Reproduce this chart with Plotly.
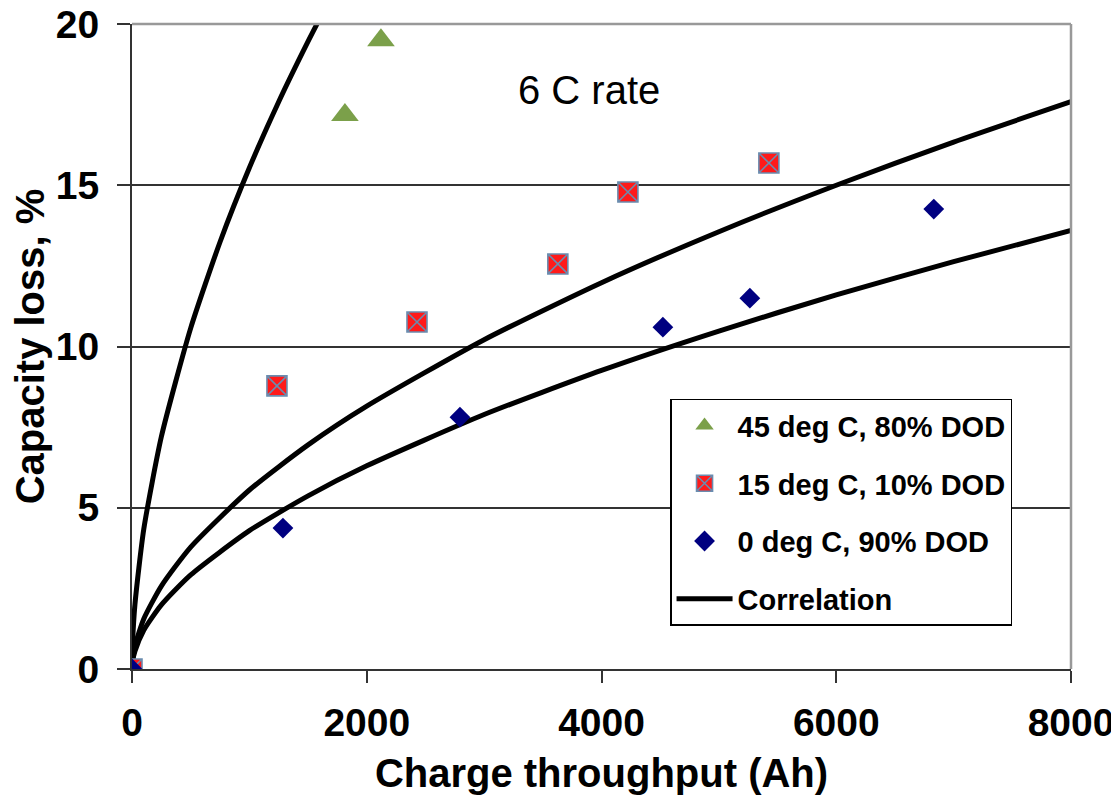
import plotly.graph_objects as go

x_45 = [1814, 2121]
y_45 = [17.18, 19.5]

x_15 = [0, 1235, 2428, 3628, 4225, 5426]
y_15 = [0, 8.78, 10.76, 12.56, 14.79, 15.69]

x_0 = [0, 1286, 2794, 4523, 5264, 6831]
y_0 = [0, 4.37, 7.81, 10.6, 11.5, 14.26]

# Correlation curves
x_c1 = [0, 5, 25, 100, 250, 500, 750, 1000, 1250, 1500, 1600]
y_c1 = [0, 0.82, 2.0, 4.33, 7.20, 10.57, 13.24, 15.54, 17.59, 19.46, 20.17]

x_c2 = [0, 5, 25, 100, 250, 500, 1000, 1500, 2000, 3000, 4000, 5000, 6000, 7000, 8000]
y_c2 = [0, 0.29, 0.72, 1.55, 2.57, 3.78, 5.55, 6.95, 8.15, 10.21, 11.98, 13.56, 15.0, 16.34, 17.59]
y_c3 = [0, 0.23, 0.55, 1.20, 1.99, 2.92, 4.29, 5.37, 6.30, 7.89, 9.26, 10.48, 11.6, 12.63, 13.60]

x_ticks = [0, 2000, 4000, 6000, 8000]
y_ticks = [0, 5, 10, 15, 20]

FONT = "Liberation Sans"
TICK = dict(family=FONT, size=39, color="black", weight="bold")
TITLE = dict(family=FONT, size=40, color="black", weight="bold")

fig = go.Figure()

line_style = dict(color="black", width=5, shape="spline", smoothing=0.6)
fig.add_trace(go.Scatter(x=x_c1, y=y_c1, mode="lines", line=line_style,
                         name="Correlation", legendgroup="d", legendrank=4))
fig.add_trace(go.Scatter(x=x_c2, y=y_c2, mode="lines", line=line_style,
                         showlegend=False, legendgroup="d"))
fig.add_trace(go.Scatter(x=x_c2, y=y_c3, mode="lines", line=line_style,
                         showlegend=False, legendgroup="d"))

fig.add_trace(go.Scatter(x=x_45, y=y_45, mode="markers", name="45 deg C, 80% DOD",
                         legendgroup="a", legendrank=1,
                         marker=dict(symbol="triangle-up", size=24, color="#7BA04A")))
fig.add_trace(go.Scatter(x=x_15, y=y_15, mode="markers", name="15 deg C, 10% DOD",
                         legendgroup="b", legendrank=2,
                         marker=dict(symbol="square-x", size=20, color="#FF1A1A",
                                     line=dict(color="#6A8CAF", width=1.6))))
fig.add_trace(go.Scatter(x=x_0, y=y_0, mode="markers", name="0 deg C, 90% DOD",
                         legendgroup="c", legendrank=3,
                         marker=dict(symbol="diamond", size=16, color="#000080")))

fig.add_annotation(x=3890, y=17.95, text="6 C rate", showarrow=False,
                   font=dict(family=FONT, size=40, color="black"))

fig.update_layout(
    width=1119, height=808,
    margin=dict(l=124, r=56, t=16, b=147),
    paper_bgcolor="white", plot_bgcolor="white",
    showlegend=True,
    legend=dict(x=0.573, y=0.419, xanchor="left", yanchor="top",
                bgcolor="white", bordercolor="black", borderwidth=1.5,
                font=dict(family=FONT, size=29, color="black", weight="bold"),
                traceorder="grouped", tracegroupgap=17, itemwidth=56),
    xaxis=dict(range=[0, 8000], tickvals=x_ticks, ticks="outside", ticklen=12,
               tickcolor="#333", tickwidth=1.5, showgrid=False,
               showline=True, linecolor="#333", linewidth=2, mirror=False,
               tickfont=TICK, zeroline=False, automargin=False, ticklabelstandoff=6,
               ticklabeloverflow="allow",
               title=dict(text="Charge throughput (Ah)", font=TITLE, standoff=16)),
    yaxis=dict(range=[0, 20], tickvals=y_ticks, ticks="outside", ticklen=13,
               tickcolor="#333", tickwidth=1.5, showgrid=True, gridcolor="#333",
               gridwidth=1.5, showline=True, linecolor="#333", linewidth=2,
               tickfont=TICK, zeroline=False, ticklabelstandoff=10, automargin=False,
               ticklabeloverflow="allow",
               title=dict(text="Capacity loss, %", font=TITLE, standoff=2)),
)

# right and top frame (light gray)
fig.add_shape(type="line", xref="paper", yref="paper", x0=1, x1=1, y0=0, y1=1,
              line=dict(color="#999999", width=2.5), layer="above")
fig.add_shape(type="line", xref="paper", yref="paper", x0=0, x1=1, y0=1, y1=1,
              line=dict(color="#999999", width=2.5), layer="above")

fig.write_html("out.html")
